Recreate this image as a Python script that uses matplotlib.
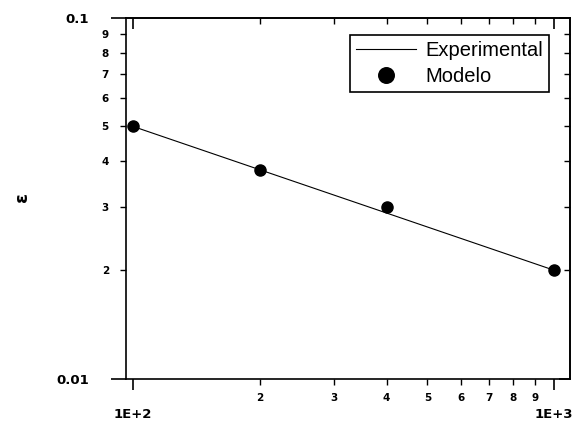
import matplotlib
matplotlib.use("Agg")
import matplotlib.pyplot as plt
from matplotlib.ticker import FixedLocator, FixedFormatter, NullFormatter

# ---- data ----
exp_x = [100, 1000]
exp_y = [0.05, 0.02]
mod_x = [100, 200, 400, 1000]
mod_y = [0.05, 0.038, 0.030, 0.020]

x_major = [100, 1000]
x_major_labels = ["1E+2", "1E+3"]
x_minor = [200, 300, 400, 500, 600, 700, 800, 900]
x_minor_labels = ["2", "3", "4", "5", "6", "7", "8", "9"]
y_major = [0.01, 0.1]
y_major_labels = ["0.01", "0.1"]
y_minor = [0.02, 0.03, 0.04, 0.05, 0.06, 0.07, 0.08, 0.09]
y_minor_labels = ["2", "3", "4", "5", "6", "7", "8", "9"]

fig = plt.figure(figsize=(5.76, 4.24), dpi=100)
ax = fig.add_axes([126/576, 1-379/424, (570-126)/576, (379-17.7)/424])

ax.plot(exp_x, exp_y, color="black", lw=0.8, label="Experimental")
ax.plot(mod_x, mod_y, 'o', color="black", ms=8, label="Modelo", clip_on=False)

ax.set_xscale("log")
ax.set_yscale("log")
ax.set_xlim(96.2, 1091)
ax.set_ylim(0.01, 0.1)

for s in ax.spines.values():
    s.set_linewidth(1.2)

ax.xaxis.set_major_locator(FixedLocator(x_major))
ax.xaxis.set_major_formatter(FixedFormatter(x_major_labels))
ax.xaxis.set_minor_locator(FixedLocator(x_minor))
ax.xaxis.set_minor_formatter(FixedFormatter(x_minor_labels))
ax.yaxis.set_major_locator(FixedLocator(y_major))
ax.yaxis.set_major_formatter(FixedFormatter(y_major_labels))
ax.yaxis.set_minor_locator(FixedLocator(y_minor))
ax.yaxis.set_minor_formatter(FixedFormatter(y_minor_labels))

ax.tick_params(axis="x", which="major", direction="out", length=8, width=1.2, pad=13, labelsize=9.5)
ax.tick_params(axis="x", which="minor", direction="out", length=4.3, width=1.0, pad=6, labelsize=7.5)
ax.tick_params(axis="y", which="major", direction="out", length=10.8, width=1.2, pad=16, labelsize=9.5)
ax.tick_params(axis="y", which="minor", direction="out", length=4.3, width=1.0, pad=8, labelsize=7.5)
for lab in ax.get_xticklabels(which="both") + ax.get_yticklabels(which="both"):
    lab.set_fontweight("bold")

# top and right ticks (inward)
top = ax.secondary_xaxis("top")
top.xaxis.set_major_locator(FixedLocator(x_major))
top.xaxis.set_minor_locator(FixedLocator(x_minor))
top.xaxis.set_major_formatter(NullFormatter())
top.xaxis.set_minor_formatter(NullFormatter())
top.tick_params(which="major", direction="in", length=8, width=1.2)
top.tick_params(which="minor", direction="in", length=4, width=1.0)
top.spines["top"].set_linewidth(1.2)

right = ax.secondary_yaxis("right")
right.yaxis.set_major_locator(FixedLocator(y_major))
right.yaxis.set_minor_locator(FixedLocator(y_minor))
right.yaxis.set_major_formatter(NullFormatter())
right.yaxis.set_minor_formatter(NullFormatter())
right.tick_params(which="major", direction="in", length=8, width=1.2)
right.tick_params(which="minor", direction="in", length=4, width=1.0)
right.spines["right"].set_linewidth(1.2)

leg = ax.legend(loc="upper left", bbox_to_anchor=(350/576, 1-35/424), bbox_transform=fig.transFigure,
                frameon=True, fancybox=False, edgecolor="black", framealpha=1,
                prop=dict(family="Liberation Sans", size=14.5), handlelength=3.0,
                handletextpad=0.45, borderpad=0.3, labelspacing=0.35, borderaxespad=0,
                markerscale=1.4)
leg.get_frame().set_linewidth(1.2)

fig.text(22/576, 1-197/424, "ε", rotation=90, ha="center", va="center", fontsize=13, fontweight="bold")

fig.savefig("out.png", dpi=100, facecolor="white")
